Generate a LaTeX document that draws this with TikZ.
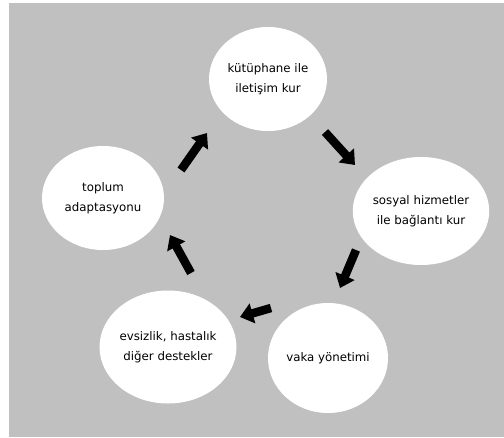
\documentclass[tikz,border=0pt]{standalone}
\usepackage{fontspec}
\setmainfont{DejaVu Sans}
\usetikzlibrary{shapes.geometric,arrows.meta}
\definecolor{bggray}{HTML}{C0C0C0}
\tikzset{
  bubble/.style={ellipse, fill=white, draw=none, inner sep=0pt, align=center,
    font=\fontsize{11.8}{20}\selectfont, text=black},
  blockarrow/.style={line width=8.5pt, draw=black,
    -{Triangle[length=13pt,width=20pt]}}
}
\begin{document}
\begin{tikzpicture}[x=1pt,y=-1pt]
\useasboundingbox (0,0) rectangle (504,437);
\fill[white] (0,0) rectangle (504,437);
\fill[bggray] (9,3) rectangle (504,437);

\node[bubble, minimum width=118pt, minimum height=104pt] (kut) at (268,79) {kütüphane ile\\iletişim kur};
\node[bubble, minimum width=118pt, minimum height=108pt] (sos) at (421,211) {sosyal hizmetler\\ile bağlantı kur};
\node[bubble, minimum width=120pt, minimum height=110pt] (vak) at (328,358) {vaka yönetimi};
\node[bubble, minimum width=115pt, minimum height=113pt] (evs) at (168,347) {evsizlik, hastalık\\diğer destekler};
\node[bubble, minimum width=122pt, minimum height=104pt] (top) at (103,198) {toplum\\adaptasyonu};

\coordinate (a1s) at (325,132); \coordinate (a1e) at (355,165);
\coordinate (a2s) at (356,250); \coordinate (a2e) at (340,288);
\coordinate (a3s) at (271,308); \coordinate (a3e) at (240,317);
\coordinate (a4s) at (191,273); \coordinate (a4e) at (170,235);
\coordinate (a5s) at (181,170); \coordinate (a5e) at (207,133);

\draw[blockarrow] (a1s) -- (a1e);
\draw[blockarrow] (a2s) -- (a2e);
\draw[blockarrow] (a3s) -- (a3e);
\draw[blockarrow] (a4s) -- (a4e);
\draw[blockarrow] (a5s) -- (a5e);
\end{tikzpicture}
\end{document}
